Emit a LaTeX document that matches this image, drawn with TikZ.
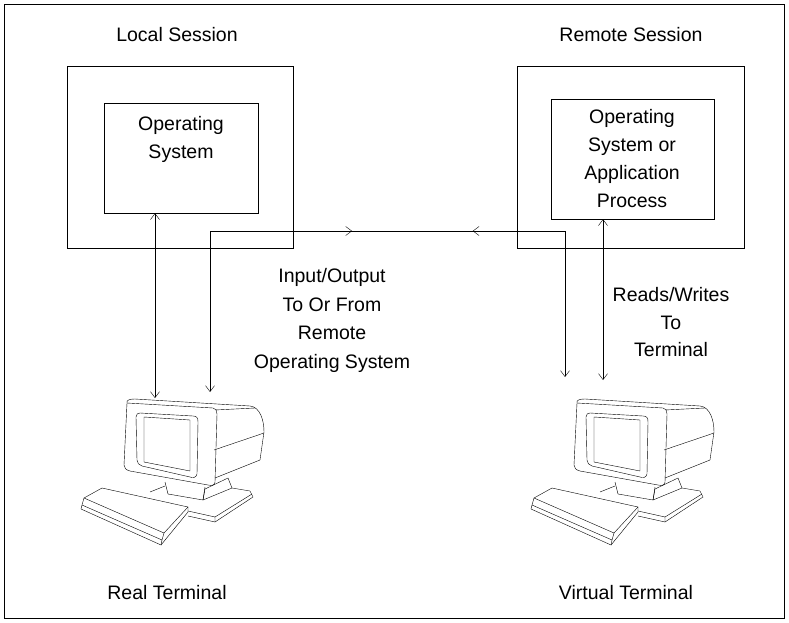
\documentclass[tikz,border=0pt]{standalone}
\usepackage{fontspec}
\setmainfont{Liberation Sans}
\usetikzlibrary{arrows.meta, decorations.markings}

\tikzset{
  box/.style={draw, thin},
  lbl/.style={font=\fontsize{19.5}{28}\selectfont, align=center, inner sep=0pt},
  tip/.style={-{Straight Barb[length=6pt,width=9pt]}},
  both/.style={{Straight Barb[length=6pt,width=9pt]}-{Straight Barb[length=6pt,width=9pt]}},
  midtips/.style={postaction={decorate}, decoration={markings,
    mark=at position 0.4 with {\arrow{Straight Barb[length=6pt,width=9pt]}},
    mark=at position 0.74 with {\arrowreversed{Straight Barb[length=6pt,width=9pt]}}}},
  terminal/.pic={
    % monitor housing
    \draw (67,33) .. controls (66,30) and (70,29) .. (75,29) -- (190,36)
      .. controls (200,37) and (204,50) .. (204,62) -- (200,90) -- (155,108);
    \draw (155,40) -- (195,38);
    \draw (154,80) -- (204,63);
    % front bezel
    \draw (67,33) -- (153,38) .. controls (156,38) and (157,41) .. (157,44)
      -- (155,112) .. controls (155,115) and (152,116) .. (148,115)
      -- (70,101) .. controls (66,100) and (64,98) .. (64,95) -- cycle;
    \draw (80,43) -- (133,46) .. controls (137,46) and (138,48) .. (138,52)
      -- (137,104) .. controls (136,108) and (133,108) .. (130,107)
      -- (82,96) .. controls (79,95) and (77,93) .. (77,90) -- (76,47)
      .. controls (76,44) and (78,43) .. (80,43) -- cycle;
    \draw (84,47) -- (130,50) -- (130,101) -- (84,92) -- cycle;
    % stand
    \draw (105,112) -- (108,124) -- (143,130) -- (145,117);
    \draw (143,130) -- (145,119) -- (168,108) -- (172,118);
    % base
    \draw (90,122) -- (105,116);
    \draw (143,130) -- (172,118) -- (190,121) -- (193,127) -- (155,152) -- (128,146);
    \draw (155,147) -- (192,124);
    \draw (128,141) -- (155,147) -- (155,152);
    % keyboard
    \draw (24,128) -- (42,118) -- (128,137) -- (104,163) -- cycle;
    \draw (24,128) -- (22,135) -- (102,170) -- (104,163);
    \draw (22,135) -- (21,139) -- (101,175) -- (128,142) -- (128,137);
    \draw (101,175) -- (102,170);
  }
}

\begin{document}
\begin{tikzpicture}[x=1pt, y=-1pt, thin]
\useasboundingbox (0,0) rectangle (789,623);
\draw (4,4) rectangle (784,618);

% sessions
\node[lbl] (ls) at (177,35) {Local Session};
\node[lbl] (rs) at (631,35) {Remote Session};
\draw[box] (67,66) rectangle (293,248);
\node[box, minimum width=154pt, minimum height=110pt] (los) at (181,158) {};
\node[lbl] at (181,139) {Operating\\System};
\draw[box] (517,66) rectangle (744,248);
\node[box, minimum width=163pt, minimum height=120pt] (ros) at (632.5,159) {};
\node[lbl] at (632,158.5) {Operating\\System or\\Application\\Process};

% terminals
\pic at (60,370) {terminal};
\pic at (510,370) {terminal};
\node[lbl] (rt) at (167,593) {Real Terminal};
\node[lbl] (vt) at (626,593) {Virtual Terminal};

% connectors
\coordinate (a1) at (155,398);
\coordinate (a2) at (210,392);
\coordinate (c1) at (210,231);
\coordinate (c2) at (565,231);
\coordinate (a3) at (565,377);
\coordinate (a4) at (603,380);
\draw[both] (los.south -| a1) -- (a1);
\draw[tip] (c1) -- (a2);
\draw[midtips] (c1) -- (c2);
\draw[tip] (c2) -- (a3);
\draw[both] (ros.south -| a4) -- (a4);

\node[lbl, font=\fontsize{19.5}{28.5}\selectfont] at (332,320.5) {Input/Output\\To Or From\\Remote\\Operating System};
\node[lbl, font=\fontsize{19.5}{27.5}\selectfont] at (671,322.5) {Reads/Writes\\To\\Terminal};
\end{tikzpicture}
\end{document}
